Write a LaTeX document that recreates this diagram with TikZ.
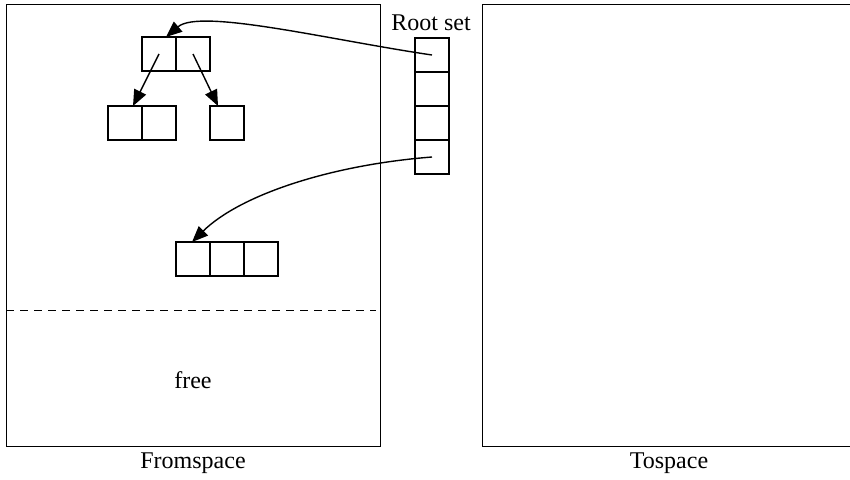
\documentclass[tikz,border=0pt]{standalone}
\usepackage{fontspec}
\setmainfont{Liberation Serif}
\usetikzlibrary{arrows.meta}
\begin{document}
\begin{tikzpicture}[x=1pt,y=-1pt,
  cell/.style={draw,line width=1.3pt,minimum size=34pt,inner sep=0pt,outer sep=0pt,anchor=north west},
  space/.style={draw,line width=0.9pt},
  lbl/.style={font=\fontsize{24}{28}\selectfont,inner sep=0pt},
  ptr/.style={line width=1.4pt,-{Triangle[length=16pt,width=13pt]}}]
\useasboundingbox (0,0) rectangle (850,479);
% spaces
\draw[space] (6,4) rectangle (380,446);
\draw[space] (482,4) rectangle (852,446);
\draw[dashed,dash pattern=on 8pt off 6pt,line width=0.8pt] (6,310) -- (376,310);
% cells
\node[cell] (a1) at (142,37) {};
\node[cell] (a2) at (176,37) {};
\node[cell] (b1) at (108,106) {};
\node[cell] (b2) at (142,106) {};
\node[cell] (b3) at (210,106) {};
\node[cell] (c1) at (176,242) {};
\node[cell] (c2) at (210,242) {};
\node[cell] (c3) at (244,242) {};
\node[cell] (r1) at (415,38) {};
\node[cell] (r2) at (415,72) {};
\node[cell] (r3) at (415,106) {};
\node[cell] (r4) at (415,140) {};
% labels
\node[lbl] (rs) at (431,23) {Root set};
\node[lbl] (fr) at (193,380) {free};
\node[lbl] (fs) at (193,463) {Fromspace};
\node[lbl] (ts) at (669,463) {Tospace};
% pointers
\draw[ptr] (r1.center) .. controls (330,40) and (200,8) .. ([xshift=7pt]a1.north);
\draw[ptr] (r4.center) .. controls (330,165) and (240,195) .. ([xshift=-1pt]c1.north);
\draw[ptr] (a1.center) -- ([xshift=8pt]b1.north);
\draw[ptr] (a2.center) -- ([xshift=-9pt]b3.north);
\end{tikzpicture}
\end{document}
